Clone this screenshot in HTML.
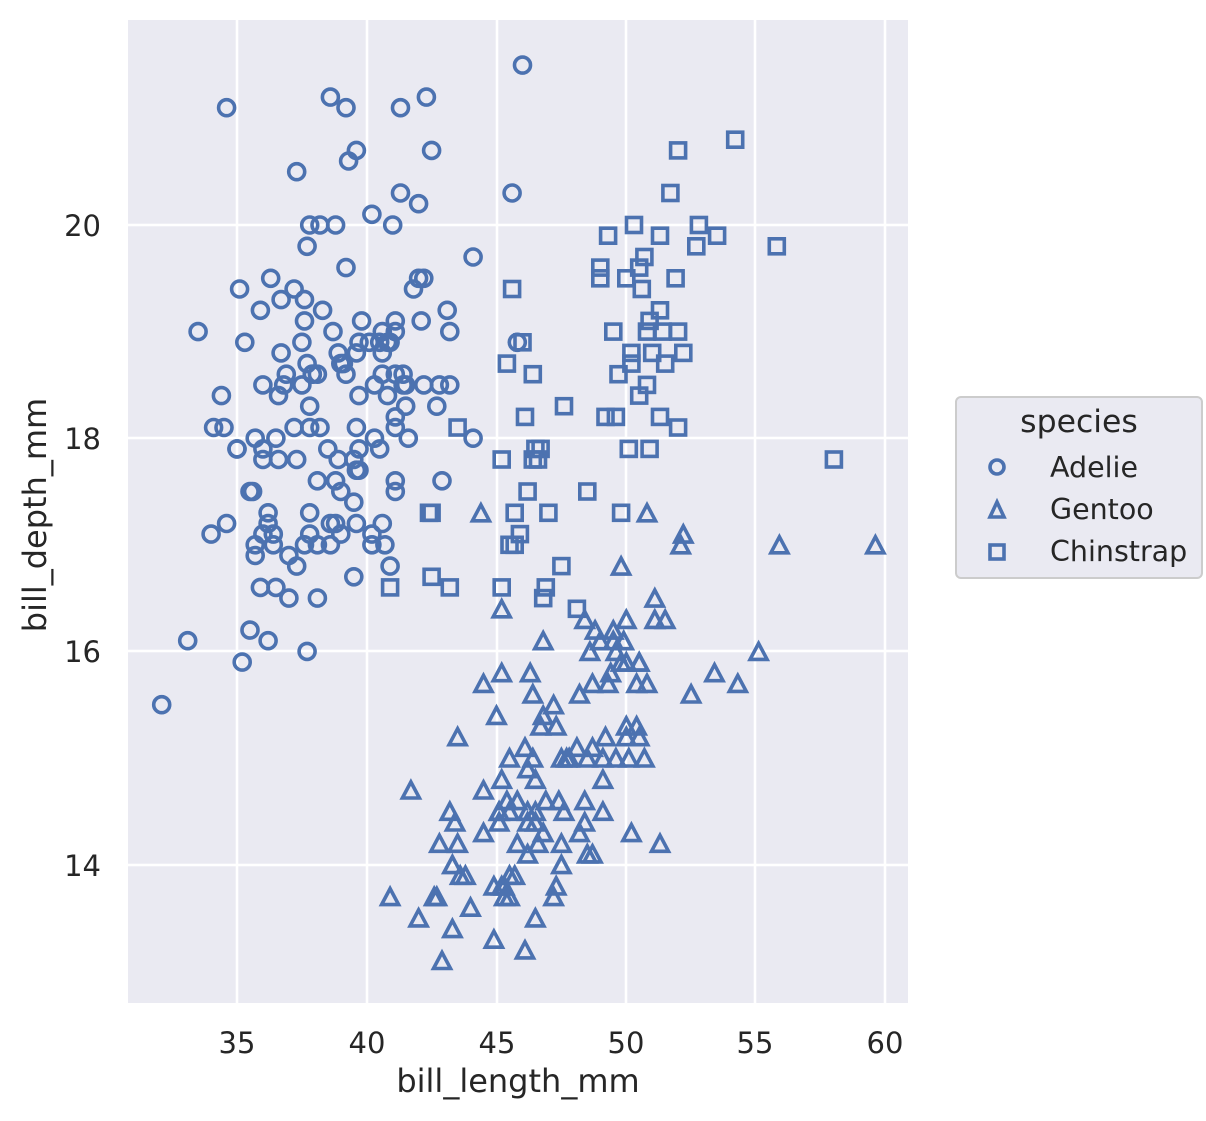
<!DOCTYPE html>
<html><head><meta charset="utf-8"><style>
body{margin:0;background:#fff;}
svg{display:block;font-family:"DejaVu Sans","Liberation Sans",sans-serif;}
</style></head><body>
<svg id="s" width="1206" height="1121" xmlns="http://www.w3.org/2000/svg">
<rect x="0" y="0" width="1206" height="1121" fill="#fff"/>
<rect x="128" y="20" width="780" height="983" fill="#eaeaf2"/>
<g stroke="#fff" stroke-width="2.6">
<line x1="237" y1="20" x2="237" y2="1003"/><line x1="367" y1="20" x2="367" y2="1003"/><line x1="497" y1="20" x2="497" y2="1003"/><line x1="626" y1="20" x2="626" y2="1003"/><line x1="755" y1="20" x2="755" y2="1003"/><line x1="885" y1="20" x2="885" y2="1003"/>
<line x1="128" y1="225" x2="908" y2="225"/><line x1="128" y1="438" x2="908" y2="438"/><line x1="128" y1="651" x2="908" y2="651"/><line x1="128" y1="865" x2="908" y2="865"/>
</g>
<g fill="#262626" font-size="29" text-anchor="middle">
<text x="237" y="1053">35</text><text x="367" y="1053">40</text><text x="497" y="1053">45</text><text x="626" y="1053">50</text><text x="755" y="1053">55</text><text x="885" y="1053">60</text>
</g>
<g fill="#262626" font-size="29" text-anchor="end">
<text x="101" y="236">20</text><text x="101" y="449">18</text><text x="101" y="662">16</text><text x="101" y="876">14</text>
</g>
<text x="518" y="1092" fill="#262626" font-size="32" text-anchor="middle">bill_length_mm</text>
<text transform="translate(46,515) rotate(-90)" fill="#262626" font-size="32" text-anchor="middle">bill_depth_mm</text>
<g id="pts" fill="none" stroke="#4c72b0" stroke-width="3.6"></g>
<rect x="956" y="397" width="246" height="181" rx="5" fill="#eaeaf2" stroke="#cccccc" stroke-width="2"/>
<text x="1079" y="432" fill="#262626" font-size="31.5" text-anchor="middle">species</text>
<g fill="#262626" font-size="28.5">
<text x="1050" y="477">Adelie</text><text x="1050" y="519">Gentoo</text><text x="1050" y="561">Chinstrap</text>
</g>
<g fill="none" stroke="#4c72b0" stroke-width="3.6">
<circle cx="997" cy="467" r="7"/>
<polygon points="997,502 990,517 1004,517"/>
<rect x="990" y="545" width="14" height="14"/>
</g>
</svg>
<script>
var A=[39.1,18.7,39.5,17.4,40.3,18.0,36.7,19.3,39.3,20.6,38.9,17.8,39.2,19.6,34.1,18.1,42.0,20.2,37.8,17.1,37.8,17.3,41.1,17.6,38.6,21.2,34.6,21.1,36.6,17.8,38.7,19.0,42.5,20.7,34.4,18.4,46.0,21.5,37.8,18.3,37.7,18.7,35.9,19.2,38.2,18.1,38.8,17.2,35.3,18.9,40.6,18.6,40.5,17.9,37.9,18.6,40.5,18.9,39.5,16.7,37.2,18.1,39.5,17.8,40.9,18.9,36.4,17.0,39.2,21.1,38.8,20.0,42.2,18.5,37.6,19.3,39.8,19.1,36.5,18.0,40.8,18.4,36.0,18.5,44.1,19.7,37.0,16.9,39.6,18.8,41.1,19.0,37.5,18.9,36.0,17.9,42.3,21.2,39.6,17.7,40.1,18.9,35.0,17.9,42.0,19.5,34.5,18.1,41.4,18.6,39.0,17.5,40.6,18.8,36.5,16.6,37.6,19.1,35.7,16.9,41.3,21.1,37.6,17.0,41.1,18.2,36.4,17.1,41.6,18.0,35.5,16.2,41.1,19.1,35.9,16.6,41.8,19.4,33.5,19.0,39.7,18.4,39.6,17.2,45.8,18.9,35.5,17.5,42.8,18.5,40.9,16.8,37.2,19.4,36.2,16.1,42.1,19.1,34.6,17.2,42.9,17.6,36.7,18.8,35.1,19.4,37.3,17.8,41.3,20.3,36.3,19.5,36.9,18.6,38.3,19.2,38.9,18.8,35.7,18.0,41.1,18.1,34.0,17.1,39.6,18.1,36.2,17.3,40.8,18.9,38.1,18.6,40.3,18.5,33.1,16.1,43.2,18.5,35.0,17.9,41.0,20.0,37.7,16.0,37.8,20.0,37.9,18.6,39.7,18.9,38.6,17.2,38.2,20.0,38.1,17.0,43.2,19.0,38.1,16.5,45.6,20.3,39.7,17.7,42.2,19.5,39.6,20.7,42.7,18.3,38.6,17.0,37.3,20.5,35.7,17.0,41.1,18.6,36.2,17.2,37.7,19.8,40.2,17.0,41.4,18.5,35.2,15.9,40.6,19.0,38.8,17.6,41.5,18.3,39.0,17.1,44.1,18.0,38.5,17.9,43.1,19.2,36.8,18.5,37.5,18.5,38.1,17.6,41.1,17.5,35.6,17.5,40.2,20.1,37.0,16.5,39.7,17.9,40.2,17.1,40.6,17.2,32.1,15.5,40.7,17.0,37.3,16.8,39.0,18.7,39.2,18.6,36.6,18.4,36.0,17.8,37.8,18.1,36.0,17.1,41.5,18.5];
var G=[46.1,13.2,50.0,16.3,48.7,14.1,50.0,15.2,47.6,14.5,46.5,13.5,45.4,14.6,46.7,15.3,43.3,13.4,46.8,15.4,40.9,13.7,49.0,16.1,45.5,13.7,48.4,14.6,45.8,14.6,49.3,15.7,42.0,13.5,49.2,15.2,46.2,14.5,48.7,15.1,50.2,14.3,45.1,14.5,46.5,14.5,46.3,15.8,42.9,13.1,46.1,15.1,44.5,14.3,47.8,15.0,48.2,14.3,50.0,15.3,47.3,15.3,42.8,14.2,45.1,14.5,59.6,17.0,49.1,14.8,48.4,16.3,42.6,13.7,44.4,17.3,44.0,13.6,48.7,15.7,42.7,13.7,49.6,16.0,45.3,13.7,49.6,15.0,50.5,15.9,43.6,13.9,45.5,13.9,50.5,15.9,44.9,13.3,45.2,15.8,46.6,14.2,48.5,14.1,45.1,14.4,50.1,15.0,46.5,14.4,45.0,15.4,43.8,13.9,45.5,15.0,43.2,14.5,50.4,15.3,45.3,13.8,46.2,14.9,45.7,13.9,54.3,15.7,45.8,14.2,49.8,16.8,46.2,14.4,49.5,16.2,43.5,14.2,50.7,15.0,47.7,15.0,46.4,15.6,48.2,15.6,46.5,14.8,46.4,15.0,48.6,16.0,47.5,14.2,51.1,16.3,45.2,13.8,45.2,16.4,49.1,14.5,52.5,15.6,47.4,14.6,50.0,15.9,44.9,13.8,50.8,17.3,43.4,14.4,51.3,14.2,47.5,14.0,52.1,17.0,47.5,15.0,52.2,17.1,45.5,14.5,49.5,16.1,44.5,14.7,50.8,15.7,49.4,15.8,46.9,14.6,48.4,14.4,51.1,16.5,48.5,15.0,55.9,17.0,47.2,15.5,49.1,15.0,47.3,13.8,46.8,16.1,41.7,14.7,53.4,15.8,43.3,14.0,48.1,15.1,50.5,15.2,49.8,15.9,43.5,15.2,51.5,16.3,46.2,14.1,55.1,16.0,44.5,15.7,48.8,16.2,47.2,13.7,46.8,14.3,50.4,15.7,45.2,14.8,49.9,16.1];
var C=[46.5,17.9,50.0,19.5,51.3,19.2,45.4,18.7,52.7,19.8,45.2,17.8,46.1,18.2,51.3,18.2,46.0,18.9,51.3,19.9,46.6,17.8,51.7,20.3,47.0,17.3,52.0,18.1,45.9,17.1,50.5,19.6,50.3,20.0,58.0,17.8,46.4,18.6,49.2,18.2,42.4,17.3,48.5,17.5,43.2,16.6,50.6,19.4,46.7,17.9,52.0,19.0,50.5,18.4,49.5,19.0,46.4,17.8,52.8,20.0,40.9,16.6,54.2,20.8,42.5,16.7,51.0,18.8,49.7,18.6,47.5,16.8,47.6,18.3,52.0,20.7,46.9,16.6,53.5,19.9,49.0,19.5,46.2,17.5,50.9,19.1,45.5,17.0,50.9,17.9,50.8,18.5,50.1,17.9,49.0,19.6,51.5,18.7,49.8,17.3,48.1,16.4,51.4,19.0,45.7,17.3,50.7,19.7,42.5,17.3,52.2,18.8,45.2,16.6,49.3,19.9,50.2,18.8,45.6,19.4,51.9,19.5,46.8,16.5,45.7,17.0,55.8,19.8,43.5,18.1,49.6,18.2,50.8,19.0,50.2,18.7];
function X(v){return 237+(v-35)*25.95;}function Y(v){return 225+(20-v)*106.6;}
var h='';
for(var i=0;i<A.length;i+=2){h+='<circle cx="'+X(A[i]).toFixed(1)+'" cy="'+Y(A[i+1]).toFixed(1)+'" r="8"/>';}
for(var i=0;i<G.length;i+=2){var x=X(G[i]),y=Y(G[i+1]);h+='<polygon points="'+x.toFixed(1)+','+(y-8).toFixed(1)+' '+(x-8.5).toFixed(1)+','+(y+8).toFixed(1)+' '+(x+8.5).toFixed(1)+','+(y+8).toFixed(1)+'"/>';}
for(var i=0;i<C.length;i+=2){h+='<rect x="'+(X(C[i])-7.5).toFixed(1)+'" y="'+(Y(C[i+1])-7.5).toFixed(1)+'" width="15" height="15"/>';}
document.getElementById('pts').innerHTML=h;
</script>
</body></html>
